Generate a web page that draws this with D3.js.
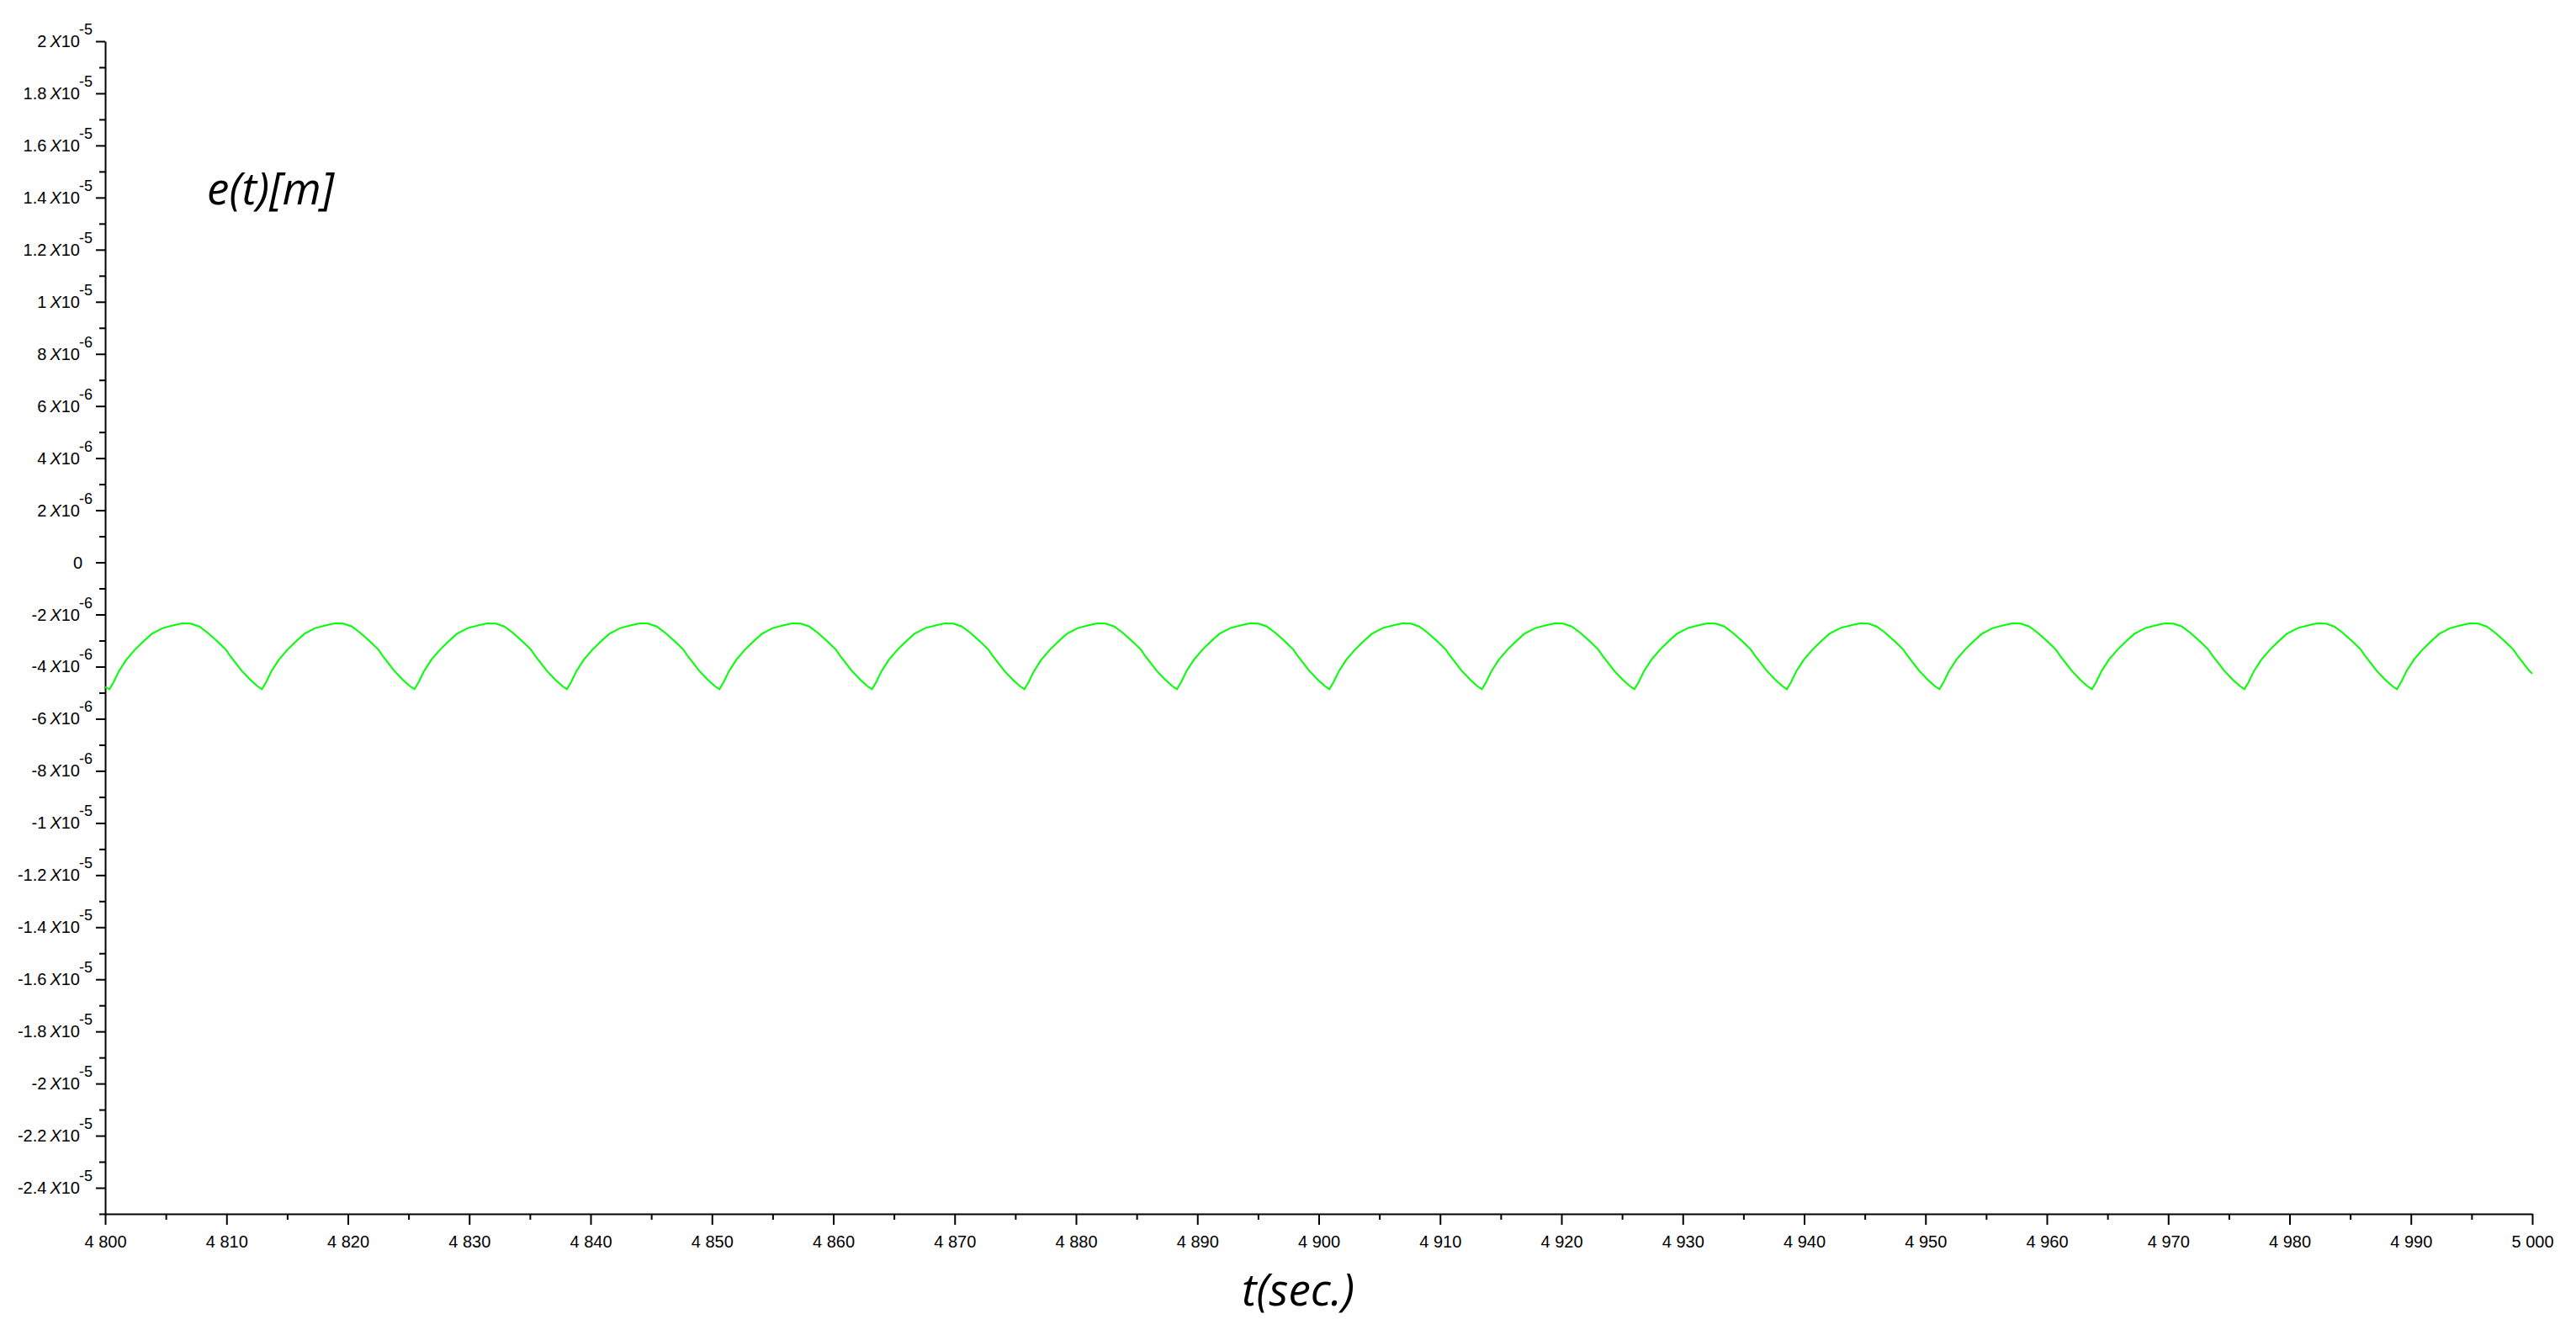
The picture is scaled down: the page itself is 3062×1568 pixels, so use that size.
<!DOCTYPE html>
<html>
<head>
<meta charset="utf-8">
<script src="https://cdn.jsdelivr.net/npm/d3@7"></script>
<style>
  html, body { margin: 0; padding: 0; background: #ffffff; }
  svg { display: block; }
</style>
</head>
<body>
<svg id="chart" width="3062" height="1568"></svg>
<script>
// ---------------- DATA ----------------
// time t [s]
const timeValues = [
  4800.00,
  4800.35, 4800.70, 4801.15, 4801.75, 4802.45, 4803.15, 4803.85, 4804.75, 4805.65, 4806.35, 4807.05, 4807.75, 4808.45, 4809.25, 4809.95, 4810.35, 4811.25, 4811.95, 4812.55,
  4812.92, 4813.27, 4813.72, 4814.32, 4815.02, 4815.72, 4816.42, 4817.32, 4818.22, 4818.92, 4819.62, 4820.32, 4821.02, 4821.82, 4822.52, 4822.92, 4823.82, 4824.52, 4825.12,
  4825.49, 4825.84, 4826.29, 4826.89, 4827.59, 4828.29, 4828.99, 4829.89, 4830.79, 4831.49, 4832.19, 4832.89, 4833.59, 4834.39, 4835.09, 4835.49, 4836.39, 4837.09, 4837.69,
  4838.05, 4838.40, 4838.85, 4839.45, 4840.15, 4840.85, 4841.55, 4842.45, 4843.35, 4844.05, 4844.75, 4845.45, 4846.15, 4846.95, 4847.65, 4848.05, 4848.95, 4849.65, 4850.25,
  4850.62, 4850.97, 4851.42, 4852.02, 4852.72, 4853.42, 4854.12, 4855.02, 4855.92, 4856.62, 4857.32, 4858.02, 4858.72, 4859.52, 4860.22, 4860.62, 4861.52, 4862.22, 4862.82,
  4863.19, 4863.54, 4863.99, 4864.59, 4865.29, 4865.99, 4866.69, 4867.59, 4868.49, 4869.19, 4869.89, 4870.59, 4871.29, 4872.09, 4872.79, 4873.19, 4874.09, 4874.79, 4875.39,
  4875.75, 4876.10, 4876.55, 4877.15, 4877.85, 4878.55, 4879.25, 4880.15, 4881.05, 4881.75, 4882.45, 4883.15, 4883.85, 4884.65, 4885.35, 4885.75, 4886.65, 4887.35, 4887.95,
  4888.32, 4888.67, 4889.12, 4889.72, 4890.42, 4891.12, 4891.82, 4892.72, 4893.62, 4894.32, 4895.02, 4895.72, 4896.42, 4897.22, 4897.92, 4898.32, 4899.22, 4899.92, 4900.52,
  4900.88, 4901.23, 4901.68, 4902.28, 4902.98, 4903.68, 4904.38, 4905.28, 4906.18, 4906.88, 4907.58, 4908.28, 4908.98, 4909.78, 4910.48, 4910.88, 4911.78, 4912.48, 4913.08,
  4913.45, 4913.80, 4914.25, 4914.85, 4915.55, 4916.25, 4916.95, 4917.85, 4918.75, 4919.45, 4920.15, 4920.85, 4921.55, 4922.35, 4923.05, 4923.45, 4924.35, 4925.05, 4925.65,
  4926.02, 4926.37, 4926.82, 4927.42, 4928.12, 4928.82, 4929.52, 4930.42, 4931.32, 4932.02, 4932.72, 4933.42, 4934.12, 4934.92, 4935.62, 4936.02, 4936.92, 4937.62, 4938.22,
  4938.58, 4938.93, 4939.38, 4939.98, 4940.68, 4941.38, 4942.08, 4942.98, 4943.88, 4944.58, 4945.28, 4945.98, 4946.68, 4947.48, 4948.18, 4948.58, 4949.48, 4950.18, 4950.78,
  4951.15, 4951.50, 4951.95, 4952.55, 4953.25, 4953.95, 4954.65, 4955.55, 4956.45, 4957.15, 4957.85, 4958.55, 4959.25, 4960.05, 4960.75, 4961.15, 4962.05, 4962.75, 4963.35,
  4963.72, 4964.07, 4964.52, 4965.12, 4965.82, 4966.52, 4967.22, 4968.12, 4969.02, 4969.72, 4970.42, 4971.12, 4971.82, 4972.62, 4973.32, 4973.72, 4974.62, 4975.32, 4975.92,
  4976.28, 4976.63, 4977.08, 4977.68, 4978.38, 4979.08, 4979.78, 4980.68, 4981.58, 4982.28, 4982.98, 4983.68, 4984.38, 4985.18, 4985.88, 4986.28, 4987.18, 4987.88, 4988.48,
  4988.85, 4989.20, 4989.65, 4990.25, 4990.95, 4991.65, 4992.35, 4993.25, 4994.15, 4994.85, 4995.55, 4996.25, 4996.95, 4997.75, 4998.45, 4998.85, 4999.75,
  5000.00
];
// tracking error e(t) in units of 1e-6 m
const errorValues = [
  -4.78,
  -4.87, -4.59, -4.16, -3.73, -3.35, -3.03, -2.74, -2.52, -2.41, -2.34, -2.35, -2.46, -2.70, -3.03, -3.35, -3.62, -4.16, -4.50, -4.75,
  -4.87, -4.59, -4.16, -3.73, -3.35, -3.03, -2.74, -2.52, -2.41, -2.34, -2.35, -2.46, -2.70, -3.03, -3.35, -3.62, -4.16, -4.50, -4.75,
  -4.87, -4.59, -4.16, -3.73, -3.35, -3.03, -2.74, -2.52, -2.41, -2.34, -2.35, -2.46, -2.70, -3.03, -3.35, -3.62, -4.16, -4.50, -4.75,
  -4.87, -4.59, -4.16, -3.73, -3.35, -3.03, -2.74, -2.52, -2.41, -2.34, -2.35, -2.46, -2.70, -3.03, -3.35, -3.62, -4.16, -4.50, -4.75,
  -4.87, -4.59, -4.16, -3.73, -3.35, -3.03, -2.74, -2.52, -2.41, -2.34, -2.35, -2.46, -2.70, -3.03, -3.35, -3.62, -4.16, -4.50, -4.75,
  -4.87, -4.59, -4.16, -3.73, -3.35, -3.03, -2.74, -2.52, -2.41, -2.34, -2.35, -2.46, -2.70, -3.03, -3.35, -3.62, -4.16, -4.50, -4.75,
  -4.87, -4.59, -4.16, -3.73, -3.35, -3.03, -2.74, -2.52, -2.41, -2.34, -2.35, -2.46, -2.70, -3.03, -3.35, -3.62, -4.16, -4.50, -4.75,
  -4.87, -4.59, -4.16, -3.73, -3.35, -3.03, -2.74, -2.52, -2.41, -2.34, -2.35, -2.46, -2.70, -3.03, -3.35, -3.62, -4.16, -4.50, -4.75,
  -4.87, -4.59, -4.16, -3.73, -3.35, -3.03, -2.74, -2.52, -2.41, -2.34, -2.35, -2.46, -2.70, -3.03, -3.35, -3.62, -4.16, -4.50, -4.75,
  -4.87, -4.59, -4.16, -3.73, -3.35, -3.03, -2.74, -2.52, -2.41, -2.34, -2.35, -2.46, -2.70, -3.03, -3.35, -3.62, -4.16, -4.50, -4.75,
  -4.87, -4.59, -4.16, -3.73, -3.35, -3.03, -2.74, -2.52, -2.41, -2.34, -2.35, -2.46, -2.70, -3.03, -3.35, -3.62, -4.16, -4.50, -4.75,
  -4.87, -4.59, -4.16, -3.73, -3.35, -3.03, -2.74, -2.52, -2.41, -2.34, -2.35, -2.46, -2.70, -3.03, -3.35, -3.62, -4.16, -4.50, -4.75,
  -4.87, -4.59, -4.16, -3.73, -3.35, -3.03, -2.74, -2.52, -2.41, -2.34, -2.35, -2.46, -2.70, -3.03, -3.35, -3.62, -4.16, -4.50, -4.75,
  -4.87, -4.59, -4.16, -3.73, -3.35, -3.03, -2.74, -2.52, -2.41, -2.34, -2.35, -2.46, -2.70, -3.03, -3.35, -3.62, -4.16, -4.50, -4.75,
  -4.87, -4.59, -4.16, -3.73, -3.35, -3.03, -2.74, -2.52, -2.41, -2.34, -2.35, -2.46, -2.70, -3.03, -3.35, -3.62, -4.16, -4.50, -4.75,
  -4.87, -4.59, -4.16, -3.73, -3.35, -3.03, -2.74, -2.52, -2.41, -2.34, -2.35, -2.46, -2.70, -3.03, -3.35, -3.62, -4.16,
  -4.27
];

// axis ticks
const xTickValues = [4800, 4810, 4820, 4830, 4840, 4850, 4860, 4870, 4880, 4890, 4900,
                     4910, 4920, 4930, 4940, 4950, 4960, 4970, 4980, 4990, 5000];
const xTickLabels = ["4 800", "4 810", "4 820", "4 830", "4 840", "4 850", "4 860", "4 870", "4 880", "4 890", "4 900",
                     "4 910", "4 920", "4 930", "4 940", "4 950", "4 960", "4 970", "4 980", "4 990", "5 000"];
const yTickValues = [20, 18, 16, 14, 12, 10, 8, 6, 4, 2, 0, -2, -4, -6, -8, -10, -12, -14, -16, -18, -20, -22, -24];
const yTickMantissas = ["2", "1.8", "1.6", "1.4", "1.2", "1", "8", "6", "4", "2", "0", "-2", "-4", "-6", "-8",
                        "-1", "-1.2", "-1.4", "-1.6", "-1.8", "-2", "-2.2", "-2.4"];
const yTickExponents = ["-5", "-5", "-5", "-5", "-5", "-5", "-6", "-6", "-6", "-6", "", "-6", "-6", "-6", "-6",
                        "-5", "-5", "-5", "-5", "-5", "-5", "-5", "-5"];
const yLabel = "e(t)[m]";
const xLabel = "t(sec.)";

// ---------------- DRAWING ----------------
const svg = d3.select("#chart");

const x = d3.scaleLinear().domain([4800, 5000]).range([125, 3010]);
const y = d3.scaleLinear().domain([-25, 20]).range([1443, 49]);

const tickFont = "'Liberation Sans', Arial, sans-serif";

// minor ticks
const xMinor = d3.range(4805, 5000, 10);
const yMinor = d3.range(-25, 20, 2);

svg.append("g")
  .attr("transform", `translate(0,${y(-25)})`)
  .call(d3.axisBottom(x).tickValues(xMinor).tickSize(7).tickFormat(""))
  .call(g => g.select(".domain").remove())
  .call(g => g.selectAll("line").attr("stroke", "#000").attr("stroke-width", 2));

svg.append("g")
  .attr("transform", `translate(${x(4800)},0)`)
  .call(d3.axisLeft(y).tickValues(yMinor).tickSize(7).tickFormat(""))
  .call(g => g.select(".domain").remove())
  .call(g => g.selectAll("line").attr("stroke", "#000").attr("stroke-width", 2));

// major x axis
const gx = svg.append("g")
  .attr("transform", `translate(0,${y(-25)})`)
  .call(d3.axisBottom(x).tickValues(xTickValues).tickSize(13).tickSizeOuter(0)
        .tickFormat((d, i) => xTickLabels[i]).tickPadding(14));
gx.select(".domain").attr("stroke", "#000").attr("stroke-width", 2);
gx.selectAll(".tick line").attr("stroke", "#000").attr("stroke-width", 2);
gx.selectAll(".tick text")
  .attr("font-family", tickFont)
  .attr("font-size", 20)
  .attr("fill", "#000")
  .attr("dy", "0.71em")
  .attr("y", 26);

// major y axis (ticks only, custom labels)
const gy = svg.append("g")
  .attr("transform", `translate(${x(4800)},0)`)
  .call(d3.axisLeft(y).tickValues(yTickValues).tickSize(11).tickSizeOuter(0).tickFormat(""));
gy.select(".domain").attr("stroke", "#000").attr("stroke-width", 2);
gy.selectAll(".tick line").attr("stroke", "#000").attr("stroke-width", 2);

// y tick labels with scientific notation
const yLabels = svg.append("g")
  .attr("font-family", tickFont)
  .attr("font-size", 20)
  .attr("fill", "#000");

yTickValues.forEach((v, i) => {
  const ty = y(v);
  const t = yLabels.append("text")
    .attr("text-anchor", "end")
    .attr("y", ty + 7);
  if (yTickExponents[i] === "") {
    t.attr("x", 98).text(yTickMantissas[i]);
  } else {
    t.attr("x", 110);
    t.append("tspan").text(yTickMantissas[i] + "\u2009");
    t.append("tspan").attr("font-style", "italic").text("X");
    t.append("tspan").text("10");
    t.append("tspan").attr("font-size", 18).attr("dy", -15).attr("dx", -1).text(yTickExponents[i]);
  }
});

// the series
const points = timeValues.map((t, i) => [t, errorValues[i]]);
svg.append("path")
  .datum(points)
  .attr("fill", "none")
  .attr("stroke", "#00ff00")
  .attr("stroke-width", 2)
  .attr("d", d3.line().x(d => x(d[0])).y(d => y(d[1])));

// axis titles
svg.append("text")
  .attr("x", 246).attr("y", 243)
  .attr("font-family", "'Open Sans', sans-serif")
  .attr("font-style", "italic")
  .attr("font-size", 53)
  .attr("fill", "#000")
  .text(yLabel);

svg.append("text")
  .attr("x", 1476).attr("y", 1552)
  .attr("font-family", "'Open Sans', sans-serif")
  .attr("font-style", "italic")
  .attr("font-size", 53)
  .attr("fill", "#000")
  .text(xLabel);
</script>
</body>
</html>
